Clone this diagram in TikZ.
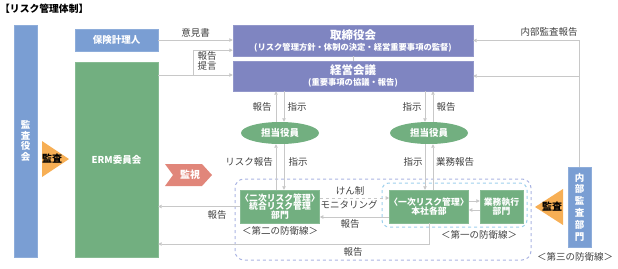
\documentclass[tikz,border=0pt]{standalone}
\usepackage{fontspec}
\setmainfont{Noto Sans CJK JP}
\usetikzlibrary{arrows.meta,positioning,shapes.geometric,calc}
\definecolor{riskblue}{RGB}{122,158,211}
\definecolor{riskgreen}{RGB}{114,175,128}
\definecolor{riskpurple}{RGB}{127,133,193}
\definecolor{auditorange}{RGB}{247,175,85}
\definecolor{watchred}{RGB}{225,134,122}
\definecolor{linegray}{RGB}{200,200,200}
\definecolor{textgray}{RGB}{64,64,64}
\definecolor{dashouter}{RGB}{170,180,226}
\definecolor{dashinner}{RGB}{158,208,236}
\tikzset{
 bluebox/.style={rectangle,draw=riskblue!85!white,fill=riskblue,text=white,inner sep=0pt,align=center,font=\fontsize{9.5}{10.5}\selectfont\bfseries},
 greenbox/.style={rectangle,draw=riskgreen!85!white,fill=riskgreen,text=white,inner sep=0pt,align=center,font=\fontsize{8.8}{8.6}\selectfont\bfseries},
 purplebox/.style={rectangle,draw=riskpurple!85!white,fill=riskpurple,text=white,inner sep=0pt,align=center},
 officer/.style={ellipse,fill=riskgreen,text=white,minimum width=78,minimum height=22,inner sep=0pt,font=\fontsize{9.5}{10}\selectfont\bfseries},
 note/.style={text=textgray,inner sep=0pt,align=center,font=\fontsize{9.5}{10.5}\selectfont},
 conn/.style={-{Triangle[length=3.5pt,width=3.5pt]},draw=linegray,line width=0.8pt},
 plain/.style={draw=linegray,line width=0.8pt}}
\begin{document}
\begin{tikzpicture}[x=1pt,y=-1pt]
\useasboundingbox (0,0) rectangle (618,268);
\node[anchor=west,inner sep=0pt,font=\fontsize{9.8}{12}\selectfont\bfseries] (title) at (0,9) {【リスク管理体制】};
\node[bluebox,minimum width=23,minimum height=232] (auditboard) at (25.5,141) {監\\査\\役\\会};
\node[bluebox,minimum width=83,minimum height=22] (actuary) at (116.5,40) {保険計理人};
\node[greenbox,minimum width=83,minimum height=195,font=\fontsize{9.5}{10}\selectfont\bfseries] (erm) at (116.5,159.5) {ERM委員会};
\node[purplebox,minimum width=240,minimum height=31] (board) at (353,40.5) {{\fontsize{11.5}{11}\selectfont\bfseries 取締役会}\\[-1pt]{\fontsize{8.3}{9}\selectfont\bfseries (リスク管理方針・体制の決定・経営重要事項の監督)}};
\node[purplebox,minimum width=240,minimum height=30] (mgmt) at (353,76) {{\fontsize{11.5}{11}\selectfont\bfseries 経営会議}\\[-1pt]{\fontsize{8.3}{9}\selectfont\bfseries (重要事項の協議・報告)}};
\node[officer] (officerL) at (280,133) {担当役員};
\node[officer] (officerR) at (429,133) {担当役員};
\node[greenbox,minimum width=78,minimum height=33] (integrated) at (280,206.5) {〈二次リスク管理〉\\統合リスク管理\\部門};
\node[greenbox,minimum width=78,minimum height=33] (headoffice) at (429,206.5) {〈一次リスク管理〉\\本社各部};
\node[greenbox,minimum width=43,minimum height=33] (business) at (501.5,206.5) {業務執行\\部門};
\node[bluebox,minimum width=23,minimum height=80,font=\fontsize{9.5}{11.8}\selectfont\bfseries] (internal) at (579.5,207) {内\\部\\監\\査\\部\\門};
% 監査・監視
\fill[auditorange] (42,141) -- (69,159) -- (42,177) -- cycle;
\node[inner sep=0pt,font=\fontsize{10}{10}\selectfont\bfseries] (auditL) at (52,159) {監査};
\fill[auditorange] (563,189) -- (535,207) -- (563,225) -- cycle;
\node[inner sep=0pt,font=\fontsize{10}{10}\selectfont\bfseries] (auditR) at (552,207) {監査};
\fill[watchred] (165,164) -- (202,164) -- (212,175) -- (202,186) -- (165,186) -- (173,175) -- cycle;
\node[inner sep=0pt,text=white,font=\fontsize{10}{10}\selectfont\bfseries] (watch) at (190,175) {監視};
% 防衛線
\draw[dashouter,dashed,line width=1pt,rounded corners=9] (235,179) rectangle (531,260);
\draw[dashinner,dashed,line width=1pt,rounded corners=7] (382,183) rectangle (527,227);
\node[note] at (280,231) {＜第二の防衛線＞};
\node[note] at (479,235) {＜第一の防衛線＞};
\node[note] at (575,257) {＜第三の防衛線＞};
% connectors
\coordinate (split) at (193,75);
\coordinate (bottomline) at (0,244);
\draw[conn] (actuary) -- node[note,above=2pt]{意見書} (actuary -| board.west);
\draw[conn] (erm.east |- split) -- (split -| mgmt.west);
\draw[conn] (split) |- ([yshift=6pt]board.south west);
\node[note,align=left,font=\fontsize{9.5}{9.8}\selectfont] at (207,61) {報告\\提言};
\draw[conn] (internal.north) |- (board.east);
\draw[conn] (internal.north |- mgmt.east) -- (mgmt.east);
\draw[plain] (board.south) -- (mgmt.north);
\draw[conn] ([xshift=-4pt]officerL.north) -- ([xshift=-4pt]officerL.north |- mgmt.south);
\draw[conn] ([xshift=4pt]officerL.north |- mgmt.south) -- ([xshift=4pt]officerL.north);
\draw[conn] ([xshift=-4pt]officerR.north |- mgmt.south) -- ([xshift=-4pt]officerR.north);
\draw[conn] ([xshift=4pt]officerR.north) -- ([xshift=4pt]officerR.north |- mgmt.south);
\node[note] at (262,107) {報告}; \node[note] at (297,107) {指示};
\node[note] at (412,107) {指示}; \node[note] at (446,107) {報告};
\draw[conn] ([xshift=-4pt]integrated.north) -- ([xshift=-4pt]integrated.north |- officerL.south);
\draw[conn] ([xshift=4pt]integrated.north |- officerL.south) -- ([xshift=4pt]integrated.north);
\draw[conn] ([xshift=-4pt]headoffice.north |- officerR.south) -- ([xshift=-4pt]headoffice.north);
\draw[conn] ([xshift=4pt]headoffice.north) -- ([xshift=4pt]headoffice.north |- officerR.south);
\node[note] at (249,162) {リスク報告}; \node[note] at (298,162) {指示};
\node[note] at (413,162) {指示}; \node[note] at (455,162) {業務報告};
\draw[conn,dashed] ([yshift=8.5pt]integrated.east) -- ([yshift=8.5pt]integrated.east -| headoffice.west);
\node[note] at (350,191) {けん制}; \node[note] at (349,205) {モニタリング};
\draw[conn] ([yshift=-10.5pt]headoffice.west) -- ([yshift=-10.5pt]headoffice.west -| integrated.east);
\node[note] at (350,224) {報告};
\draw[conn] ([yshift=5.5pt]headoffice.east) -- ([yshift=5.5pt]headoffice.east -| business.west);
\draw[conn] ([yshift=-3.5pt]business.west) -- ([yshift=-3.5pt]business.west -| headoffice.east);
\draw[conn] (integrated.west) -- (integrated.west -| erm.east);
\node[note] at (217,215) {報告};
\draw[conn] (headoffice.south) |- (erm.east |- bottomline);
\node[note] at (353,252) {報告};
\node[note] at (549,32) {内部監査報告};
\end{tikzpicture}
\end{document}
